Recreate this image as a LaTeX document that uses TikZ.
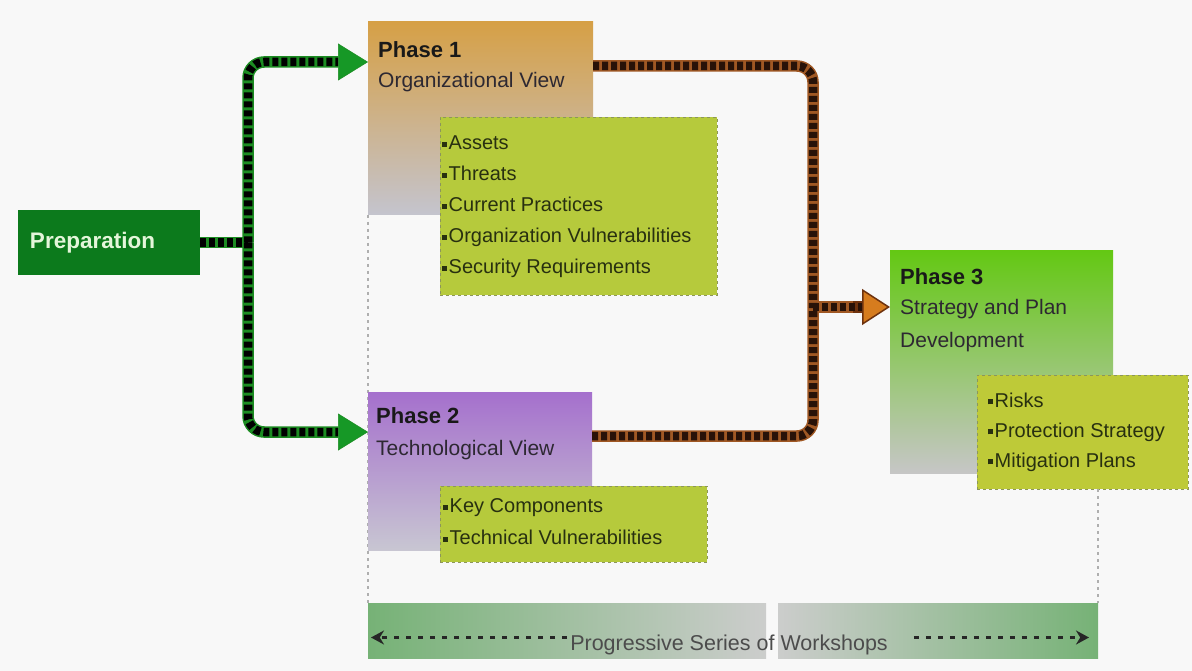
\documentclass[tikz,border=0pt]{standalone}
\usepackage{fontspec}
\setmainfont{Liberation Sans}
\usetikzlibrary{arrows.meta,calc}

\definecolor{bgc}{RGB}{248,248,248}
\definecolor{prepc}{RGB}{12,122,28}
\definecolor{preptext}{RGB}{228,246,218}
\definecolor{ponetop}{RGB}{214,160,70}
\definecolor{ponebot}{RGB}{196,196,206}
\definecolor{ptwotop}{RGB}{165,112,205}
\definecolor{ptwobot}{RGB}{200,198,210}
\definecolor{pthrtop}{RGB}{100,200,20}
\definecolor{pthrbot}{RGB}{198,198,198}
\definecolor{listfill}{RGB}{182,202,60}
\definecolor{listfillb}{RGB}{190,202,56}
\definecolor{listedge}{RGB}{140,150,90}
\definecolor{listtext}{RGB}{40,48,16}
\definecolor{subtext}{RGB}{45,40,50}
\definecolor{gline}{RGB}{28,140,34}
\definecolor{garrow}{RGB}{22,152,38}
\definecolor{bline}{RGB}{160,88,36}
\definecolor{bdash}{RGB}{40,18,8}
\definecolor{barrow}{RGB}{214,124,30}
\definecolor{barrowedge}{RGB}{110,50,14}
\definecolor{bargreen}{RGB}{118,178,118}
\definecolor{bargray}{RGB}{204,205,204}
\definecolor{dotgray}{RGB}{175,175,175}

\newcommand{\lbul}{\rule[3pt]{5pt}{5pt}\hspace{1.5pt}}

\begin{document}
\begin{tikzpicture}[x=1pt,y=-1pt,
  phasebox/.style={anchor=north west, inner sep=0pt, outer sep=0pt},
  listbox/.style={anchor=north west, inner sep=0pt, outer sep=0pt,
    draw=listedge, dashed, line width=0.8pt},
  titletext/.style={anchor=base west, inner sep=0pt,
    font=\fontsize{22}{26}\selectfont\bfseries, text=black!90},
  subtitletext/.style={anchor=base west, inner sep=0pt,
    font=\fontsize{21}{26}\selectfont, text=subtext},
  listtext/.style={anchor=north west, inner sep=0pt, align=left,
    text=listtext},
  gbase/.style={draw=gline, line width=11.5pt},
  gdash/.style={draw=black, line width=8.5pt, dash pattern=on 6pt off 3pt},
  gtip/.style={-{Triangle[length=30pt,width=37pt,line width=0.5pt,fill=garrow]}},
  bbase/.style={draw=bline, line width=11.5pt},
  bdashed/.style={draw=bdash, line width=8.5pt, dash pattern=on 6pt off 3pt},
  btip/.style={-{Triangle[length=28pt,width=36pt,line width=1.5pt,fill=barrow]}},
  guide/.style={draw=dotgray, line width=1.2pt, dash pattern=on 3pt off 4pt},
  barline/.style={draw=black!85, line width=2.2pt, dash pattern=on 5pt off 7pt}
]
% canvas
\fill[bgc] (0,0) rectangle (1192,671);
\useasboundingbox (0,0) rectangle (1192,671);

% bar of workshops
\node[phasebox, minimum width=398pt, minimum height=55pt,
      left color=bargreen, right color=bargray] (barL) at (368,603) {};
\node[phasebox, minimum width=320pt, minimum height=55pt,
      left color=bargray, right color=bargreen] (barR) at (778,603) {};

% phase 1 box, guide line, then the other phase boxes
\node[phasebox, minimum width=225pt, minimum height=193pt,
      top color=ponetop, bottom color=ponebot] (p1) at (368,22) {};
\draw[guide] (p1.south west) -- (barL.north west);
\node[phasebox, minimum width=224pt, minimum height=158pt,
      top color=ptwotop, bottom color=ptwobot] (p2) at (368,392) {};
\node[phasebox, minimum width=223pt, minimum height=222pt,
      top color=pthrtop, bottom color=pthrbot] (p3) at (890,251) {};

% lists
\node[listbox, fill=listfillb, minimum width=211pt, minimum height=114pt] (p3l) at (977,375) {};
\draw[guide] (barR.north east |- p3l.south) -- (barR.north east);
\node[listbox, fill=listfill, minimum width=277pt, minimum height=178pt] (p1l) at (440,117) {};
\node[listbox, fill=listfill, minimum width=267pt, minimum height=76pt] (p2l) at (440,486) {};

% preparation
\node[anchor=north west, outer sep=0pt, inner ysep=0pt, inner xsep=12pt,
      fill=prepc, minimum height=65pt, text width=158pt, align=left,
      font=\fontsize{22.5}{26}\selectfont\bfseries, text=preptext] (prep) at (18,210) {Preparation};

% titles
\node[titletext] (p1a) at (378,58) {Phase 1};
\node[subtitletext] (p1b) at (378,88) {Organizational View};
\node[titletext] (p2a) at (376,423) {Phase 2};
\node[subtitletext] (p2b) at (376,455) {Technological View};
\node[titletext] (p3a) at (900,284) {Phase 3};
\node[subtitletext] (p3b) at (900,315) {Strategy and Plan};
\node[subtitletext] (p3c) at (900,347) {Development};

% list contents
\node[listtext, font=\fontsize{20}{31}\selectfont] (p1t) at (442,135.7)
  {\lbul Assets\\ \lbul Threats\\ \lbul Current Practices\\ \lbul Organization Vulnerabilities\\ \lbul Security Requirements};
\node[listtext, font=\fontsize{20}{32}\selectfont] (p2t) at (443,498.7)
  {\lbul Key Components\\ \lbul Technical Vulnerabilities};
\node[listtext, font=\fontsize{20}{30}\selectfont] (p3t) at (988,392.7)
  {\lbul Risks\\ \lbul Protection Strategy\\ \lbul Mitigation Plans};

% workshop label and its arrows
\node[inner sep=0pt, anchor=base, font=\fontsize{21.5}{26}\selectfont, text=black!70] (bart) at (729,650)
  {Progressive Series of Workshops};
\coordinate (bl) at ($(barL.west)+(3,7)$);
\coordinate (br) at ($(barR.east)+(-9,7)$);
\draw[barline, -{Stealth[length=13pt,width=14pt]}] ($(bart.west |- bl)+(-3,0)$) -- (bl);
\draw[barline, -{Stealth[length=13pt,width=14pt]}] ($(bart.east |- br)+(26,0)$) -- (br);

% preparation feeds both first phases
\coordinate (j) at (248,242.5);
\draw[gbase] (prep.east) -- (j);
\draw[gbase, gtip, rounded corners=16pt] (j) |- ($(p1.north west)+(0,40)$);
\draw[gbase, gtip, rounded corners=16pt] (j) |- ($(p2.north west)+(0,40)$);
\draw[gdash] (prep.east) -- (j);
\draw[gdash, rounded corners=16pt, shorten >=30pt] (j) |- ($(p1.north west)+(0,40)$);
\draw[gdash, rounded corners=16pt, shorten >=30pt] (j) |- ($(p2.north west)+(0,40)$);

% first two phases feed phase 3
\coordinate (k) at (813,307);
\draw[bbase, rounded corners=16pt] ($(p1.north east)+(0,44)$) -| (k);
\draw[bbase, rounded corners=16pt] ($(p2.north east)+(0,44)$) -| (k);
\draw[bbase, btip, draw=barrowedge] (k) -- ($(p3.north west)+(0,56)$);
\draw[bbase] (k) -- ($(k)+(40,0)$);
\draw[bdashed, rounded corners=16pt] ($(p1.north east)+(0,44)$) -| (k);
\draw[bdashed, rounded corners=16pt] ($(p2.north east)+(0,44)$) -| (k);
\draw[bdashed, shorten >=28pt] (k) -- ($(p3.north west)+(0,56)$);
\end{tikzpicture}
\end{document}
